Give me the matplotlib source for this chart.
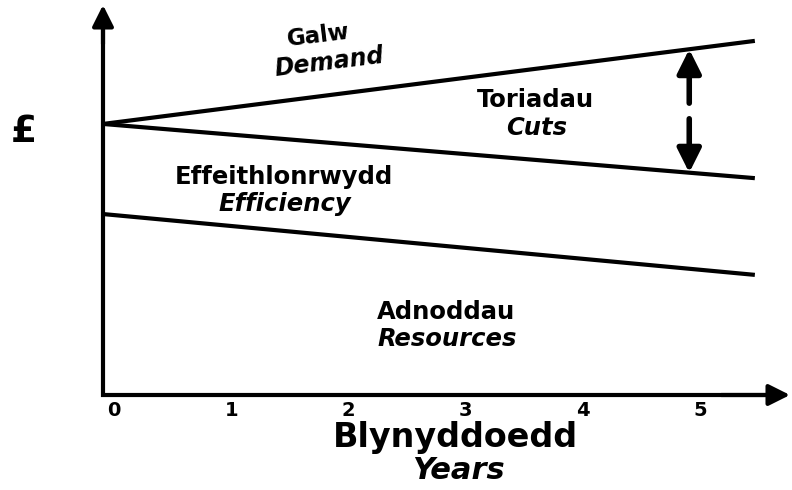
import matplotlib.pyplot as plt

plt.rcParams['font.family'] = ['DejaVu Sans']

# Data (arbitrary £ units, x in years)
years = [-0.094, 5.47]
demand = [69.5, 90.8]
efficiency = [69.5, 55.6]
resources = [46.4, 30.8]
tick_years = [0, 1, 2, 3, 4, 5]
cut_year = 4.91

fig = plt.figure(figsize=(7.92, 4.9), dpi=100)
ax = fig.add_axes([103 / 792, 95 / 490, 687 / 792, 390 / 490])
ax.set_xlim(-0.094, 5.77)
ax.set_ylim(0, 100)

for s in ax.spines.values():
    s.set_visible(False)
ax.set_yticks([])
ax.set_xticks(tick_years)
ax.set_xticklabels([str(t) for t in tick_years], fontsize=14, fontweight='bold')
ax.tick_params(axis='x', length=0, pad=4)

# axes with arrows
ax.plot([0, 0, 0.97], [0.96, 0, 0], transform=ax.transAxes, color='black', lw=3,
        solid_joinstyle='miter', clip_on=False)
ax.annotate('', xy=(0, 1), xytext=(0, 0.9), xycoords='axes fraction',
            arrowprops=dict(arrowstyle='-|>', lw=3, color='black', mutation_scale=32, shrinkA=0, shrinkB=0))
ax.annotate('', xy=(1, 0), xytext=(0.9, 0), xycoords='axes fraction',
            arrowprops=dict(arrowstyle='-|>', lw=3, color='black', mutation_scale=32, shrinkA=0, shrinkB=0))

# lines
for vals in (demand, efficiency, resources):
    ax.plot(years, vals, color='black', lw=3, solid_capstyle='butt')

# cuts arrow
def interp(vals, x):
    return vals[0] + (vals[1] - vals[0]) * (x - years[0]) / (years[1] - years[0])

top = interp(demand, cut_year)
bot = interp(efficiency, cut_year)
mid = (top + bot) / 2
gap = 2.0
ax.annotate('', xy=(cut_year, top), xytext=(cut_year, mid + gap),
            arrowprops=dict(arrowstyle='-|>', lw=4, color='black', mutation_scale=36, shrinkA=0, shrinkB=0))
ax.annotate('', xy=(cut_year, bot), xytext=(cut_year, mid - gap),
            arrowprops=dict(arrowstyle='-|>', lw=4, color='black', mutation_scale=36, shrinkA=0, shrinkB=0))

# labels
def label(x, y, s, italic=False, size=17.5, rot=0):
    ax.text(x, y, s, ha='center', va='center', fontsize=size, fontweight='bold',
            fontstyle='italic' if italic else 'normal', rotation=rot)

label(1.74, 92.0, 'Galw', size=16.5, rot=7)
label(1.84, 85.2, 'Demand', italic=True, size=17, rot=7)
label(3.60, 75.6, 'Toriadau')
label(3.61, 68.5, 'Cuts', italic=True)
label(1.45, 56.0, 'Effeithlonrwydd')
label(1.46, 49.0, 'Efficiency', italic=True)
label(2.83, 21.3, 'Adnoddau')
label(2.84, 14.4, 'Resources', italic=True)

fig.text(24 / 792, 1 - 132 / 490, '£', ha='center', va='center', fontsize=27, fontweight='bold')
fig.text(455 / 792, 1 - 437 / 490, 'Blynyddoedd', ha='center', va='center', fontsize=24, fontweight='bold')
fig.text(458 / 792, 1 - 470 / 490, 'Years', ha='center', va='center', fontsize=22,
         fontweight='bold', fontstyle='italic')

fig.savefig('out.png', dpi=100)
